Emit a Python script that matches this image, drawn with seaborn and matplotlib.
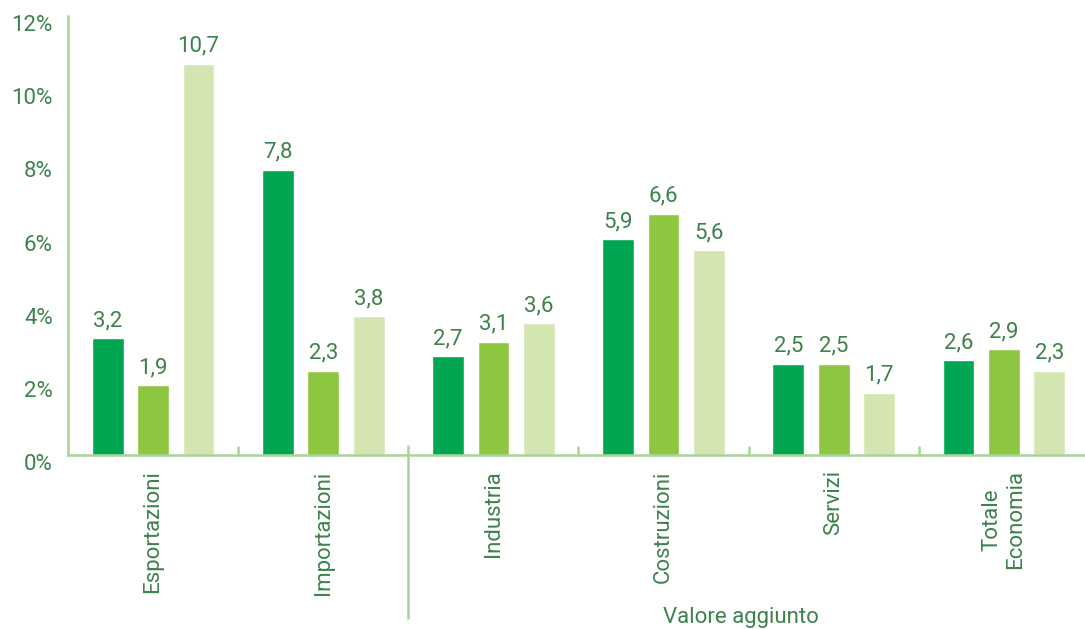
import numpy as np
import pandas as pd
import matplotlib
matplotlib.use("Agg")
import matplotlib.pyplot as plt
import matplotlib.transforms as mtrans
import seaborn as sns

categories = ["Esportazioni", "Importazioni", "Industria", "Costruzioni", "Servizi", "Totale\nEconomia"]
series_names = ["Serie 1", "Serie 2", "Serie 3"]
serie_1 = [3.2, 7.8, 2.7, 5.9, 2.5, 2.6]
serie_2 = [1.9, 2.3, 3.1, 6.6, 2.5, 2.9]
serie_3 = [10.7, 3.8, 3.6, 5.6, 1.7, 2.3]
y_ticks = [0, 2, 4, 6, 8, 10, 12]
group_label = "Valore aggiunto"

colors = ["#00a651", "#8dc63f", "#d3e6b1"]
text_color = "#3d824d"
axis_color = "#a8d49a"

sns.set_theme(style="white")
plt.rcParams['font.family'] = ['Roboto', 'DejaVu Sans']
fs = 16

df = pd.DataFrame({
    "categoria": np.repeat(categories, 3),
    "serie": series_names * len(categories),
    "valore": np.ravel(np.column_stack([serie_1, serie_2, serie_3])),
})

fig = plt.figure(figsize=(10.85, 6.29), dpi=100)
ax = fig.add_axes([68 / 1085, 174 / 629, 1021 / 1085, 439 / 629])

sns.barplot(data=df, x="categoria", y="valore", hue="serie", order=categories,
            hue_order=series_names, palette=colors, width=0.8, gap=0.3,
            saturation=1, errorbar=None, legend=False, ax=ax)

for cont in ax.containers:
    labels = [f"{v:.1f}".replace(".", ",") for v in cont.datavalues]
    ax.bar_label(cont, labels=labels, padding=5, fontsize=fs, color=text_color)

ax.set_xlim(-0.5, len(categories) - 0.5)
ax.set_ylim(0, 12)
ax.set_yticks(y_ticks)
ax.set_yticklabels([f"{t}%" for t in y_ticks], fontsize=fs, color=text_color)
ax.tick_params(axis="y", length=0, pad=11)
offset = mtrans.ScaledTranslation(0, -7 / 100, fig.dpi_scale_trans)
for lbl in ax.get_yticklabels():
    lbl.set_transform(lbl.get_transform() + offset)

ax.set_xticks(range(len(categories)))
ax.set_xticklabels(categories, rotation=90, fontsize=fs, color=text_color,
                   va="top", ha="center", multialignment="center")
ax.tick_params(axis="x", length=0, pad=11)

ax.set_xlabel("")
ax.set_ylabel("")
for s in ["top", "right"]:
    ax.spines[s].set_visible(False)
for s in ["left", "bottom"]:
    ax.spines[s].set_color(axis_color)
    ax.spines[s].set_linewidth(1.8)

xt = ax.get_xaxis_transform()
# small inward ticks between categories
for b in [0.5, 2.5, 3.5, 4.5]:
    ax.plot([b, b], [0, 9 / 439], transform=xt, color=axis_color, lw=1.8,
            clip_on=False, solid_capstyle="butt")
# separator between trade and value added groups
ax.plot([1.5, 1.5], [10 / 439, -164 / 439], transform=xt,
        color=axis_color, lw=1.8, clip_on=False, solid_capstyle="butt")
ax.text(3.455, -162 / 439, group_label, transform=xt,
        ha="center", va="center", fontsize=fs, color=text_color)

fig.savefig("out.png", dpi=100)
